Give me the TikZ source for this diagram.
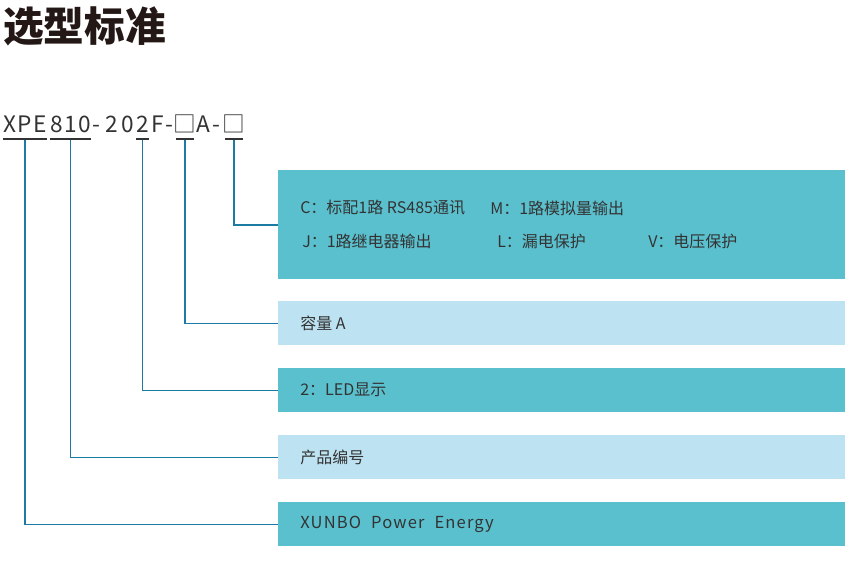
\documentclass[tikz,border=0pt]{standalone}
\usepackage{fontspec}
\setmainfont{Noto Sans CJK SC}
\newfontfamily\codefont[LetterSpace=6]{Noto Sans CJK SC}
\newfontfamily\brandfont[LetterSpace=7]{Noto Sans CJK SC}
\usepackage{tikz}
\usetikzlibrary{positioning, calc}
\definecolor{boxteal}{HTML}{5BC0CE}
\definecolor{boxlight}{HTML}{BDE2F2}
\definecolor{linkblue}{HTML}{1B7BA0}
\definecolor{inkdark}{HTML}{231815}
\definecolor{textgray}{HTML}{333333}

\tikzset{
  selbox/.style={anchor=north west, inner sep=0pt, minimum width=425.25pt, minimum height=33pt},
  boxlabel/.style={anchor=west, inner sep=0pt, font=\fontsize{12}{14}\selectfont, text=textgray},
  codepart/.style={anchor=base west, inner sep=0pt, font=\fontsize{17}{20}\codefont, text=textgray},
  uline/.style={draw=textgray, line width=1.1pt},
  link/.style={draw=linkblue, line width=1.1pt},
}
\newcommand{\blank}{\makebox[12.75pt][c]{□}}

\begin{document}
\begin{tikzpicture}[x=0.75pt, y=-0.75pt]
  \useasboundingbox[fill=white] (0,0) rectangle (866,571);

  \node[anchor=north west, inner sep=0pt, text=inkdark,
        font=\fontsize{30.5}{31}\selectfont\bfseries] (title) at (3,6) {选型标准};

  % model code
  \node[codepart] (xpe)   at (3,132)   {XPE};
  \node[codepart] (num)   at (50,132)  {810};
  \node[codepart] (dash)  at (92,132)  {-};
  \node[codepart] (mid)   at (105,132) {2\kern2.6pt0};
  \node[codepart] (dig)   at (136,132) {2};
  \node[codepart] (fpart) at (151,132) {F-};
  \node[codepart] (sqa)   at (176,132) {\blank};
  \node[codepart] (apart) at (196,132) {A\kern1.5pt-};
  \node[codepart] (sqb)   at (225,132) {\blank};

  % option boxes
  \node[selbox, fill=boxteal, minimum height=81.75pt] (box-opt) at (278,170) {};
  \node[selbox, fill=boxlight] (box-cap)   at (278,301) {};
  \node[selbox, fill=boxteal]  (box-led)   at (278,368) {};
  \node[selbox, fill=boxlight] (box-no)    at (278,435) {};
  \node[selbox, fill=boxteal]  (box-brand) at (278,502) {};

  \node[boxlabel] (opt-c) at ($(box-opt.north west)+(22,38)$)  {C：标配1路 RS485通讯};
  \node[boxlabel] (opt-m) at ($(box-opt.north west)+(212,38)$) {M：1路模拟量输出};
  \node[boxlabel] (opt-j) at ($(box-opt.north west)+(24,71)$)  {J：1路继电器输出};
  \node[boxlabel] (opt-l) at ($(box-opt.north west)+(219,71)$) {L：漏电保护};
  \node[boxlabel] (opt-v) at ($(box-opt.north west)+(370,71)$) {V：电压保护};

  \node[boxlabel] (lbl-cap)   at ($(box-cap.west)+(22,0)$)   {容量 A};
  \node[boxlabel] (lbl-led)   at ($(box-led.west)+(22,0)$)   {2：LED显示};
  \node[boxlabel] (lbl-no)    at ($(box-no.west)+(22,0)$)    {产品编号};
  \node[boxlabel, font=\fontsize{12.4}{14}\brandfont] (lbl-brand)
    at ($(box-brand.west)+(22,0)$) {XUNBO\hspace{7.5pt}Power\hspace{7.5pt}Energy};

  % underlines and leaders
  \foreach \n in {xpe, num, dig, sqa, sqb}
    \draw[uline] ($(\n.base west)+(0,7)$) -- ($(\n.base east)+(0,7)$);
  \foreach \n/\b in {xpe/box-brand, num/box-no, dig/box-led, sqa/box-cap, sqb/box-opt}
    \draw[link] ($(\n.base)+(0,7.5)$) |- (\b.west);
\end{tikzpicture}
\end{document}
